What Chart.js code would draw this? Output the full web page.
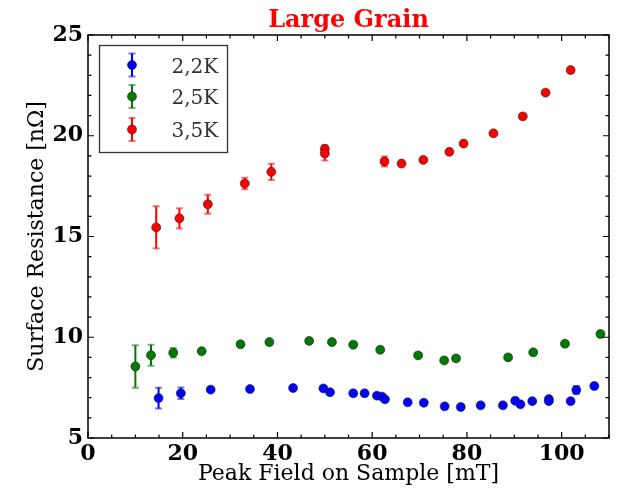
<!DOCTYPE html>
<html>
<head>
<meta charset="utf-8">
<script src="https://cdn.jsdelivr.net/npm/chart.js@4.4.1/dist/chart.umd.min.js"></script>
<style>
  html, body { margin: 0; padding: 0; background: #fff; }
</style>
</head>
<body>
<canvas id="chart" width="621" height="500"></canvas>
<script>
// values
const seriesLabels = ['2,2K', '2,5K', '3,5K'];
const seriesColors = ['#0000ff', '#007a00', '#ff0000'];

const blueX = [14.9, 19.6, 25.9, 34.2, 43.3, 49.7, 51.1, 56.0, 58.4, 61.0, 62.1, 62.7, 67.5, 70.9, 75.3, 78.7, 82.9, 87.6, 90.2, 91.3, 93.8, 97.3, 97.3, 101.9, 103.1, 106.9];
const blueY = [6.98, 7.22, 7.40, 7.43, 7.48, 7.46, 7.27, 7.22, 7.22, 7.10, 7.05, 6.92, 6.77, 6.75, 6.57, 6.54, 6.62, 6.62, 6.85, 6.67, 6.83, 6.93, 6.83, 6.83, 7.38, 7.58];
const blueErr = [0.52, 0.29, 0.08, 0.08, 0.08, 0.08, 0.08, 0.12, 0.08, 0.1, 0.08, 0.08, 0.08, 0.08, 0.08, 0.08, 0.08, 0.08, 0.08, 0.08, 0.08, 0.1, 0.08, 0.08, 0.2, 0.1];

const greenX = [10.0, 13.3, 18.0, 24.0, 32.2, 38.3, 46.7, 51.5, 56.0, 61.7, 69.7, 75.2, 77.7, 88.7, 94.0, 100.7, 108.2];
const greenY = [8.55, 9.11, 9.23, 9.31, 9.65, 9.76, 9.82, 9.76, 9.63, 9.38, 9.10, 8.85, 8.95, 9.00, 9.25, 9.68, 10.16];
const greenErr = [1.05, 0.52, 0.24, 0.08, 0.08, 0.08, 0.08, 0.08, 0.08, 0.08, 0.08, 0.08, 0.08, 0.08, 0.08, 0.08, 0.08];

const redX = [14.4, 19.3, 25.3, 33.1, 38.7, 50.0, 50.0, 62.6, 66.2, 70.8, 76.3, 79.3, 85.6, 91.8, 96.6, 101.9];
const redY = [15.45, 15.90, 16.60, 17.63, 18.21, 19.35, 19.12, 18.72, 18.62, 18.80, 19.20, 19.61, 20.12, 20.96, 22.14, 23.26];
const redErr = [1.05, 0.50, 0.47, 0.28, 0.40, 0.18, 0.35, 0.25, 0.08, 0.08, 0.1, 0.08, 0.08, 0.08, 0.08, 0.08];

const xTickValues = [0, 20, 40, 60, 80, 100];
const yTickValues = [5, 10, 15, 20, 25];
const xMinorStep = 5;
const yMinorStep = 1;

const tickFont = { family: 'DejaVu Serif', size: 22, weight: 'bold' };
const titleFont = { family: 'DejaVu Serif', size: 22 };

function toPoints(xs, ys, errs) {
  return xs.map((x, i) => ({ x, y: ys[i], err: errs[i] }));
}

const allSeries = [
  toPoints(blueX, blueY, blueErr),
  toPoints(greenX, greenY, greenErr),
  toPoints(redX, redY, redErr),
];

const datasets = allSeries.map((points, i) => ({
  label: seriesLabels[i],
  data: points,
  backgroundColor: seriesColors[i],
  borderColor: 'rgba(30,30,30,0.75)',
  borderWidth: 0.8,
  pointRadius: 4.5,
  pointHoverRadius: 4.5,
  showLine: false,
}));

function drawErrorBar(ctx, px, yTop, yBottom, color, capHalf) {
  ctx.strokeStyle = color;
  ctx.lineWidth = 2;
  ctx.beginPath();
  ctx.moveTo(px, yTop);
  ctx.lineTo(px, yBottom);
  ctx.stroke();
  ctx.globalAlpha = 0.55;
  ctx.beginPath();
  ctx.moveTo(px - capHalf, yTop);
  ctx.lineTo(px + capHalf, yTop);
  ctx.moveTo(px - capHalf, yBottom);
  ctx.lineTo(px + capHalf, yBottom);
  ctx.stroke();
  ctx.globalAlpha = 1;
}

const framePlugin = {
  id: 'frame',
  beforeDatasetsDraw(chart) {
    const { ctx, scales } = chart;
    ctx.save();
    chart.data.datasets.forEach((ds, i) => {
      ds.data.forEach((p) => {
        const px = scales.x.getPixelForValue(p.x);
        const yTop = scales.y.getPixelForValue(p.y + p.err);
        const yBottom = scales.y.getPixelForValue(p.y - p.err);
        drawErrorBar(ctx, px, yTop, yBottom, seriesColors[i], 3.5);
      });
    });
    ctx.restore();
  },
  afterDraw(chart) {
    const { ctx, chartArea: area, scales } = chart;
    ctx.save();

    // frame and inward ticks on all four sides
    ctx.strokeStyle = '#000';
    ctx.lineWidth = 1.5;
    ctx.strokeRect(area.left, area.top, area.right - area.left, area.bottom - area.top);

    ctx.lineWidth = 1.2;
    ctx.beginPath();
    for (let v = scales.x.min; v <= scales.x.max; v += xMinorStep) {
      const len = xTickValues.includes(v) ? 6 : 3.5;
      const px = scales.x.getPixelForValue(v);
      ctx.moveTo(px, area.bottom);
      ctx.lineTo(px, area.bottom - len);
      ctx.moveTo(px, area.top);
      ctx.lineTo(px, area.top + len);
    }
    for (let v = scales.y.min; v <= scales.y.max; v += yMinorStep) {
      const len = yTickValues.includes(v) ? 6 : 3.5;
      const py = scales.y.getPixelForValue(v);
      ctx.moveTo(area.left, py);
      ctx.lineTo(area.left + len, py);
      ctx.moveTo(area.right, py);
      ctx.lineTo(area.right - len, py);
    }
    ctx.stroke();

    // legend box with error-bar markers
    const boxX = area.left + 11.5;
    const boxY = area.top + 10.5;
    ctx.fillStyle = '#fff';
    ctx.fillRect(boxX, boxY, 128, 107);
    ctx.strokeStyle = '#333';
    ctx.lineWidth = 1.3;
    ctx.strokeRect(boxX, boxY, 128, 107);

    const rowOffsets = [19.5, 51, 84];
    ctx.font = '20px "DejaVu Serif"';
    ctx.textBaseline = 'alphabetic';
    ctx.textAlign = 'left';
    chart.data.datasets.forEach((ds, i) => {
      const mx = boxX + 32.5;
      const my = boxY + rowOffsets[i];
      drawErrorBar(ctx, mx, my - 11.5, my + 11.5, seriesColors[i], 3.5);
      ctx.beginPath();
      ctx.arc(mx, my, 4.5, 0, Math.PI * 2);
      ctx.fillStyle = seriesColors[i];
      ctx.fill();
      ctx.strokeStyle = 'rgba(30,30,30,0.75)';
      ctx.lineWidth = 0.8;
      ctx.stroke();
      ctx.fillStyle = '#333';
      ctx.fillText(ds.label, boxX + 72, my + 7.5);
    });

    ctx.restore();
  },
};

new Chart(document.getElementById('chart'), {
  type: 'scatter',
  data: { datasets },
  options: {
    responsive: false,
    devicePixelRatio: 1,
    animation: false,
    layout: { padding: { left: 0, right: 12, top: 0, bottom: 0 } },
    plugins: {
      legend: { display: false },
      tooltip: { enabled: false },
    },
    scales: {
      x: {
        type: 'linear',
        position: 'bottom',
        min: 0,
        max: 110,
        afterBuildTicks: (s) => { s.ticks = xTickValues.map((v) => ({ value: v })); },
        afterFit: (s) => { s.height = 62; },
        grid: { display: false, drawTicks: false },
        border: { display: false },
        ticks: { color: '#000', font: tickFont, padding: 3, maxRotation: 0, autoSkip: false },
        title: {
          display: true,
          text: 'Peak Field on Sample [mT]',
          color: '#000',
          font: titleFont,
          padding: { top: 0, bottom: 13 },
        },
      },
      x2: {
        type: 'linear',
        position: 'top',
        min: 0,
        max: 110,
        afterFit: (s) => { s.height = 35; },
        grid: { display: false, drawTicks: false },
        border: { display: false },
        ticks: { display: false },
        title: {
          display: true,
          text: 'Large Grain',
          color: '#ff0000',
          font: { family: 'DejaVu Serif', size: 24, weight: 'bold' },
          padding: { top: 6, bottom: 0 },
        },
      },
      y: {
        type: 'linear',
        position: 'left',
        min: 5,
        max: 25,
        afterBuildTicks: (s) => { s.ticks = yTickValues.map((v) => ({ value: v })); },
        afterFit: (s) => { s.width = 88; },
        grid: { display: false, drawTicks: false },
        border: { display: false },
        ticks: { color: '#000', font: tickFont, padding: 5, autoSkip: false },
        title: {
          display: true,
          text: 'Surface Resistance [nΩ]',
          color: '#000',
          font: titleFont,
          padding: { top: 24, bottom: 0 },
        },
      },
    },
  },
  plugins: [framePlugin],
});
</script>
</body>
</html>
